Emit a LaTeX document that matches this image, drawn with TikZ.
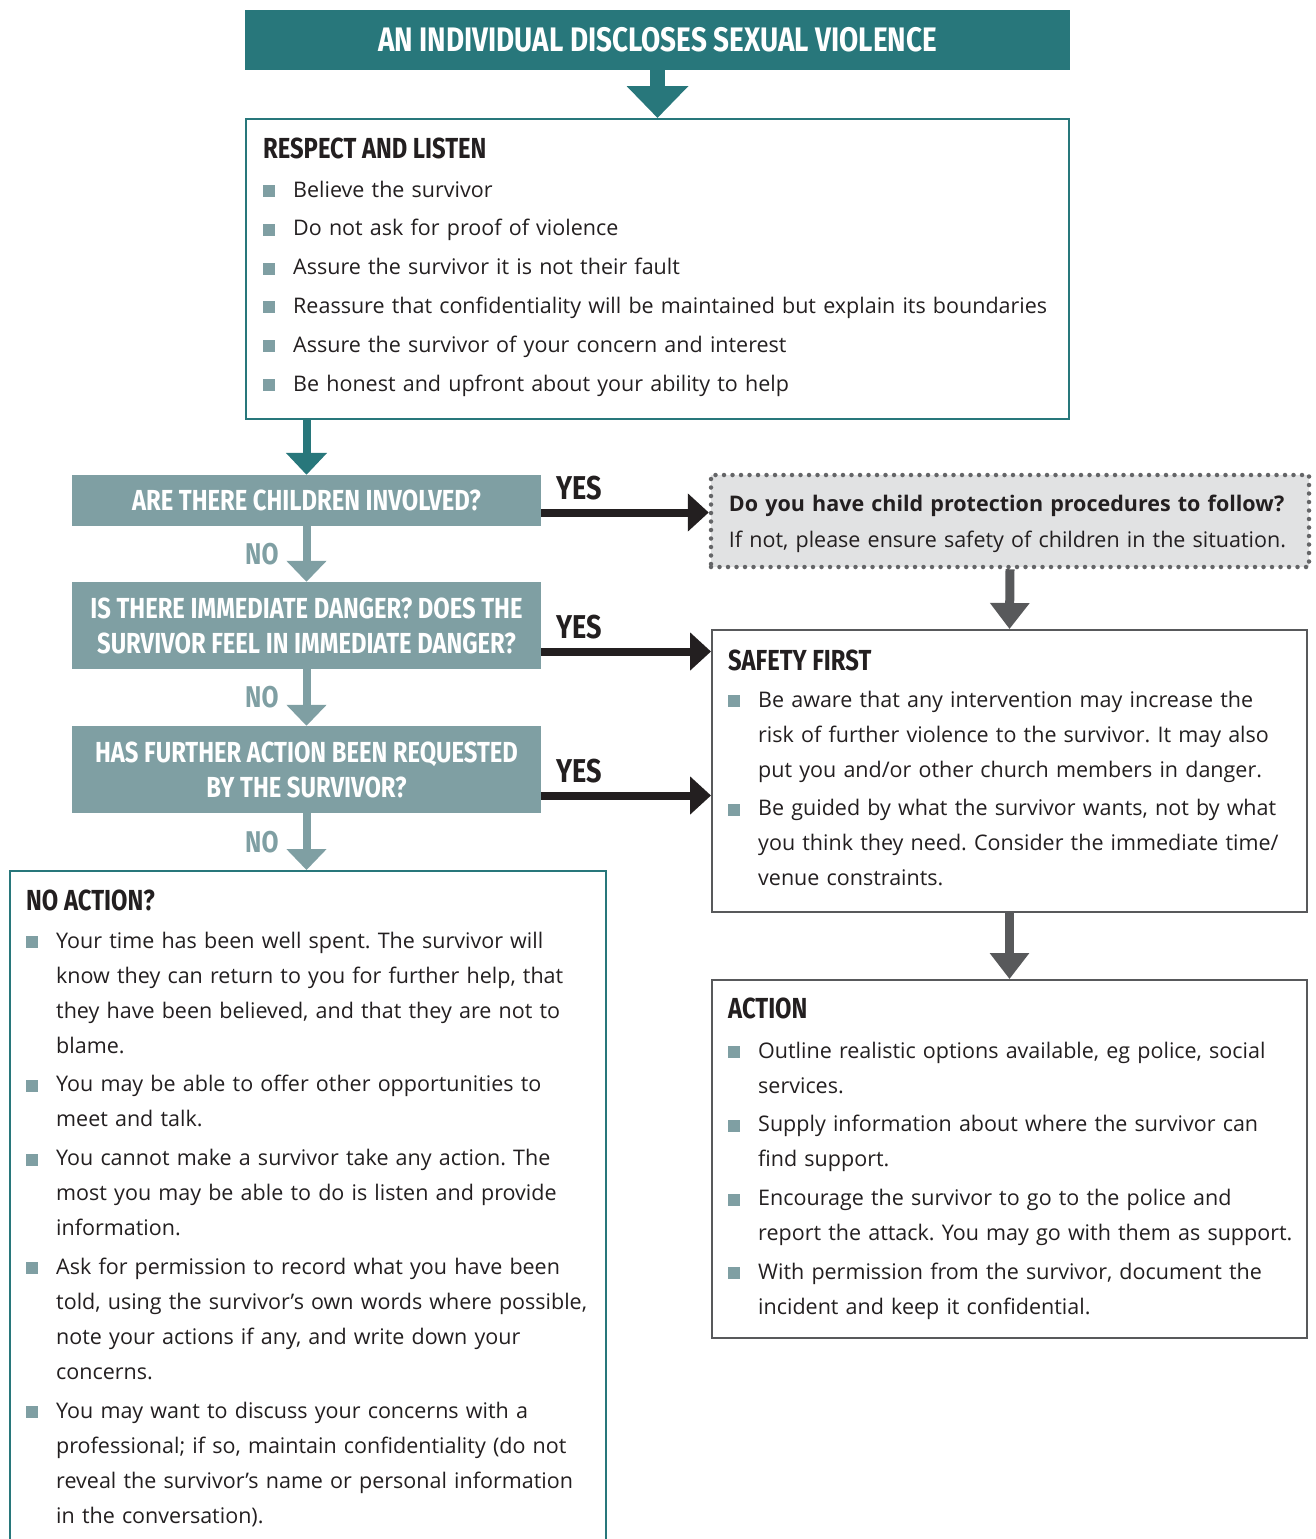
\documentclass[tikz,border=0pt]{standalone}
\usepackage{fontspec}
\setmainfont{Open Sans}
\newfontfamily\headfont[FakeStretch=0.82]{Fira Sans}
\usetikzlibrary{positioning, arrows.meta}
\usepackage{xcolor}

\definecolor{tealc}{RGB}{40,119,123}
\definecolor{grayteal}{RGB}{127,159,163}
\definecolor{darkc}{RGB}{35,31,32}
\definecolor{greyc}{RGB}{88,89,91}
\definecolor{dotfill}{RGB}{225,226,227}
\definecolor{dotline}{RGB}{100,101,103}

\newcommand\bsq{\textcolor{grayteal}{\rule{12pt}{12pt}}}
\newcommand\itm{\par\hangindent=30pt\hangafter=1\noindent\makebox[30pt][l]{\bsq}}
\newcommand\lsetup{\parskip=3.8pt\relax\frenchspacing}

\begin{document}
\begin{tikzpicture}[x=1pt, y=-1pt,
    titlebox/.style={fill=tealc, text=white, minimum width=825pt, minimum height=60pt,
                     inner sep=0pt, font=\headfont\bfseries\fontsize{34}{40}\selectfont},
    infobox/.style={draw=#1, line width=2pt, inner sep=0pt},
    infobox/.default=greyc,
    question/.style={fill=grayteal, text=white, minimum width=469pt, inner sep=0pt,
                     align=center, font=\headfont\bfseries\fontsize{29}{35}\selectfont},
    headtxt/.style={anchor=base west, inner sep=0pt, text=darkc,
                    font=\headfont\bfseries\fontsize{29}{34}\selectfont},
    listtxt/.style={anchor=north west, inner sep=0pt, text width=800pt, align=left,
                    text=darkc, font=\fontsize{21.5}{35}\selectfont},
    yeslabel/.style={anchor=base west, inner sep=0pt, text=darkc,
                     font=\headfont\bfseries\fontsize{33}{36}\selectfont},
    nolabel/.style={inner sep=0pt, text=grayteal,
                    font=\headfont\bfseries\fontsize{30}{36}\selectfont},
    bigarrow/.style={tealc, line width=15pt, -{Triangle[width=60pt, length=32pt]}},
    tealarrow/.style={tealc, line width=8pt, -{Triangle[width=40pt, length=22pt]}},
    noarrow/.style={grayteal, line width=8pt, -{Triangle[width=39pt, length=21pt]}},
    yesarrow/.style={darkc, line width=8pt, -{Triangle[width=37pt, length=21pt]}},
    greyarrow/.style={greyc, line width=9pt, -{Triangle[width=38pt, length=26pt]}},
]
\useasboundingbox (0,0) rectangle (1316,1539);

% Top of the chart
\node[titlebox] (title) at (657.5,40) {AN INDIVIDUAL DISCLOSES SEXUAL VIOLENCE};

\node[infobox=tealc, minimum width=823pt, minimum height=300pt] (respect) at (657.5,269) {};
\node[headtxt] (rlhead) at ([xshift=18pt, yshift=-40pt]respect.north west) {RESPECT AND LISTEN};
\node[listtxt] (rllist) at ([yshift=0pt]rlhead.base west)
    {\lsetup
     \itm Believe the survivor
     \itm Do not ask for proof of violence
     \itm Assure the survivor it is not their fault
     \itm Reassure that confidentiality will be maintained but explain its boundaries
     \itm Assure the survivor of your concern and interest
     \itm Be honest and upfront about your ability to help\par};

% Questions column
\node[question, minimum height=51pt] (qchild) at (306.5,500.5) {ARE THERE CHILDREN INVOLVED?};
\node[question, minimum height=87pt] (qdanger) at (306.5,625.5)
    {IS THERE IMMEDIATE DANGER? DOES THE\\SURVIVOR FEEL IN IMMEDIATE DANGER?};
\node[question, minimum height=87pt] (qfurther) at (306.5,769.5)
    {HAS FURTHER ACTION BEEN REQUESTED\\BY THE SURVIVOR?};

% No action (runs off the page)
\node[infobox=tealc, minimum width=596pt, minimum height=700pt, anchor=north west]
    (noaction) at (9,870) {};
\node[headtxt] (nahead) at ([xshift=17pt, yshift=-40pt]noaction.north west) {NO ACTION?};
\node[listtxt] (nalist) at ([yshift=1pt]nahead.base west)
    {\lsetup
     \itm Your time has been well spent. The survivor will\newline
          know they can return to you for further help, that\newline
          they have been believed, and that they are not to\newline
          blame.
     \itm You may be able to offer other opportunities to\newline
          meet and talk.
     \itm You cannot make a survivor take any action. The\newline
          most you may be able to do is listen and provide\newline
          information.
     \itm Ask for permission to record what you have been\newline
          told, using the survivor's own words where possible,\newline
          note your actions if any, and write down your\newline
          concerns.
     \itm You may want to discuss your concerns with a\newline
          professional; if so, maintain confidentiality (do not\newline
          reveal the survivor's name or personal information\newline
          in the conversation).\par};

% Right column
\node[draw=dotline, fill=dotfill, line width=4.5pt, line cap=round,
      dash pattern=on 0pt off 8.5pt, minimum width=598pt, minimum height=92pt]
    (procs) at (1010,521) {};
\node[anchor=west, inner sep=0pt, text width=560pt, align=left, text=darkc,
      font=\fontsize{21.5}{36}\selectfont] (procstxt) at ([xshift=20pt, yshift=-3pt]procs.west)
    {\textbf{Do you have child protection procedures to follow?}\\
     If not, please ensure safety of children in the situation.};

\node[infobox, minimum width=595pt, minimum height=282pt] (safety) at (1009.5,771) {};
\node[headtxt] (sfhead) at ([xshift=17pt, yshift=-41pt]safety.north west) {SAFETY FIRST};
\node[listtxt] (sflist) at ([yshift=2pt]sfhead.base west)
    {\lsetup
     \itm Be aware that any intervention may increase the\newline
          risk of further violence to the survivor. It may also\newline
          put you and/or other church members in danger.
     \itm Be guided by what the survivor wants, not by what\newline
          you think they need. Consider the immediate time/\newline
          venue constraints.\par};

\node[infobox, minimum width=595pt, minimum height=358pt] (action) at (1009.5,1159) {};
\node[headtxt] (achead) at ([xshift=17pt, yshift=-39pt]action.north west) {ACTION};
\node[listtxt] (aclist) at ([yshift=-1pt]achead.base west)
    {\lsetup
     \itm Outline realistic options available, eg police, social\newline
          services.
     \itm Supply information about where the survivor can\newline
          find support.
     \itm Encourage the survivor to go to the police and\newline
          report the attack. You may go with them as support.
     \itm With permission from the survivor, document the\newline
          incident and keep it confidential.\par};

% Arrows down the left
\draw[bigarrow] (title.south) -- (respect.north);
\draw[tealarrow] (respect.south -| qchild.north) -- (qchild.north);
\draw[noarrow] (qchild.south) -- node[nolabel, left=24pt] {NO} (qdanger.north);
\draw[noarrow] (qdanger.south) -- node[nolabel, left=24pt] {NO} (qfurther.north);
\draw[noarrow] (qfurther.south) -- node[nolabel, left=24pt] {NO} (noaction.north -| qfurther.south);

% Yes arrows
\coordinate (yes1) at ([yshift=-12pt]qchild.east);
\coordinate (yes2) at ([yshift=-26pt]qdanger.east);
\coordinate (yes3) at ([yshift=-26pt]qfurther.east);
\draw[yesarrow] (yes1) -- (yes1 -| procs.west);
\draw[yesarrow] (yes2) -- (yes2 -| safety.west);
\draw[yesarrow] (yes3) -- (yes3 -| safety.west);
\node[yeslabel] at ([xshift=15pt, yshift=13pt]yes1) {YES};
\node[yeslabel] at ([xshift=15pt, yshift=13pt]yes2) {YES};
\node[yeslabel] at ([xshift=15pt, yshift=13pt]yes3) {YES};

% Arrows down the right
\draw[greyarrow] (procs.south) -- (safety.north);
\draw[greyarrow] (safety.south) -- (action.north);

\end{tikzpicture}
\end{document}
